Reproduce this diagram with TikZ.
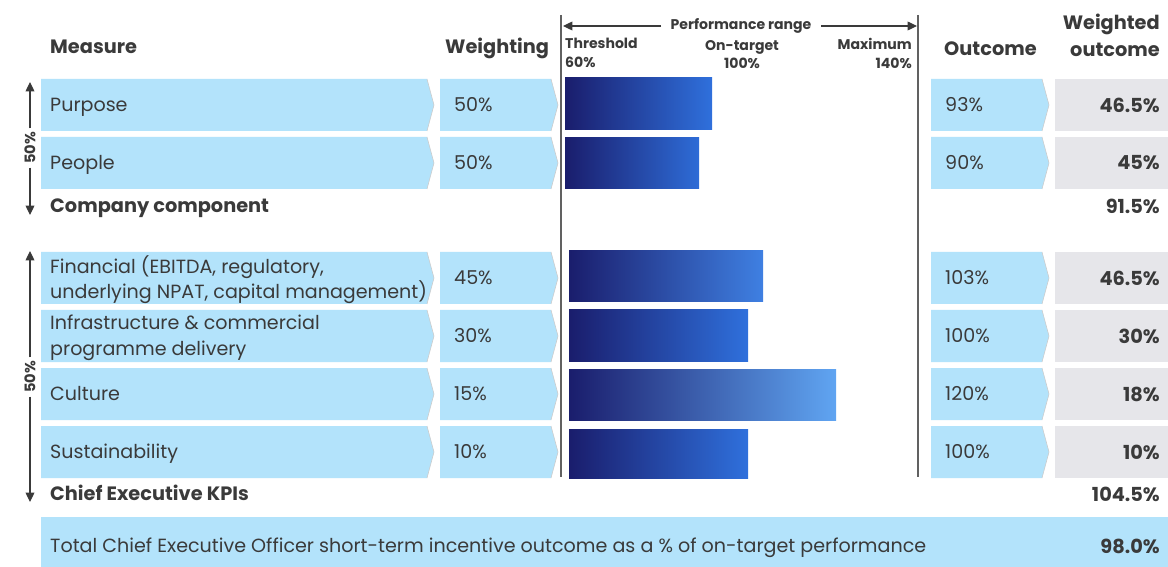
\documentclass[tikz,border=0pt]{standalone}
\usepackage{fontspec}
\setmainfont{Poppins}
\usetikzlibrary{arrows.meta}
\definecolor{lblue}{HTML}{B3E3FB}
\definecolor{lgrey}{HTML}{E6E6EA}
\definecolor{ink}{HTML}{3A3A3A}
\definecolor{navy}{HTML}{1A1D6C}
\definecolor{barend}{HTML}{2F70DC}
\definecolor{barfin}{HTML}{3F80E2}
\definecolor{barsky}{HTML}{60A5F2}
\tikzset{
  txt/.style={anchor=base west, text=ink, inner sep=0pt, yshift=-5.6pt, font=\fontsize{16.3}{22}\selectfont},
  twoline/.style={anchor=west, text=ink, inner sep=0pt, align=left, yshift=-1.5pt, font=\fontsize{16.3}{22}\selectfont},
  btxt/.style={anchor=base west, text=ink, inner sep=0pt, yshift=-5.8pt, font=\fontsize{16.5}{22}\selectfont\bfseries},
  val/.style={anchor=east, text=ink, inner sep=0pt, font=\fontsize{16.5}{23}\selectfont\bfseries},
  hdr/.style={text=ink, inner sep=0pt, font=\fontsize{12}{16}\selectfont\bfseries},
  pct/.style={text=ink, inner sep=3pt, rotate=90, font=\fontsize{12.5}{14}\selectfont\bfseries},
  sidearr/.style={draw=ink, line width=0.9pt, -{Triangle[length=8pt,width=7.5pt]}},
  rule/.style={draw=ink!80, line width=0.9pt}
}
% chevron box: colour, left x, right x, top y, bottom y
\newcommand{\chev}[5]{\fill[#1] (#2,#4) -- ({#3-7},#4) -- (#3,{(#4+#5)/2}) -- ({#3-7},#5) -- (#2,#5) -- cycle;
  \draw[gray!40, line width=0.5pt] ({#3-7},#4) -- (#3,{(#4+#5)/2}) -- ({#3-7},#5);}
% performance bar: top y, bottom y, left x, right x, middle colour, end colour
\newcommand{\perfbar}[6]{\shade[left color=navy, middle color=#5, right color=#6] (#3,#1) rectangle (#4,#2);}
\begin{document}
\begin{tikzpicture}[x=0.03cm, y=-0.03cm]
\useasboundingbox (0,0) rectangle (1168,567);
% headers
\node[btxt] (hmeasure) at (50,47) {Measure};
\node[btxt] (hweight) at (445,47) {Weighting};
\node[btxt] (houtcome) at (944,49) {Outcome};
\node[val, align=right] (hweighted) at (1160,35) {Weighted\\outcome};
\node[hdr, fill=white, inner xsep=8pt] (prange) at (741,26) {Performance range};
\coordinate (pl) at (563,26); \coordinate (pr) at (917,26);
\draw[sidearr] (prange) -- (pl); \draw[sidearr] (prange) -- (pr);
\node[hdr, anchor=north west, align=left] (thr) at (565,38) {Threshold\\60\%};
\node[hdr, anchor=north, align=center] (ont) at (742,40) {On-target\\100\%};
\node[hdr, anchor=north east, align=right] (mx) at (912,38) {Maximum\\140\%};
\draw[rule] (561,15) -- (561,477); \draw[rule] (918,15) -- (918,477);
% company rows
\chev{lblue}{41}{434}{79}{131} \chev{lblue}{440}{558}{79}{131} \chev{lblue}{931}{1049}{79}{131} \fill[lgrey] (1055,79) rectangle (1168,131);
\chev{lblue}{41}{434}{137}{189} \chev{lblue}{440}{558}{137}{189} \chev{lblue}{931}{1049}{137}{189} \fill[lgrey] (1055,137) rectangle (1168,189);
\perfbar{78}{130}{565}{712}{navy!50!barend}{barend} \perfbar{138}{189}{565}{699}{navy!52!barend}{barend!95!navy}
\node[txt] (purpose) at (50,105) {Purpose}; \node[txt] (purposew) at (454,105) {50\%};
\node[txt] (purposeo) at (945,105) {93\%}; \node[val] (purposewo) at (1160,105) {46.5\%};
\node[txt] (people) at (50,163) {People}; \node[txt] (peoplew) at (454,163) {50\%};
\node[txt] (peopleo) at (945,163) {90\%}; \node[val] (peoplewo) at (1160,163) {45\%};
\node[btxt] (company) at (50,206) {Company component}; \node[val] (companyv) at (1160,206) {91.5\%};
% ceo kpi rows
\chev{lblue}{41}{434}{252}{304} \chev{lblue}{440}{558}{252}{304} \chev{lblue}{931}{1049}{252}{304} \fill[lgrey] (1055,252) rectangle (1168,304);
\chev{lblue}{41}{434}{310}{362} \chev{lblue}{440}{558}{310}{362} \chev{lblue}{931}{1049}{310}{362} \fill[lgrey] (1055,310) rectangle (1168,362);
\chev{lblue}{41}{434}{368}{420} \chev{lblue}{440}{558}{368}{420} \chev{lblue}{931}{1049}{368}{420} \fill[lgrey] (1055,368) rectangle (1168,420);
\chev{lblue}{41}{434}{426}{478} \chev{lblue}{440}{558}{426}{478} \chev{lblue}{931}{1049}{426}{478} \fill[lgrey] (1055,426) rectangle (1168,478);
\perfbar{251}{302}{569}{763}{navy!40!barend}{barfin}
\perfbar{310}{361}{569}{748}{navy!48!barend}{barend}
\perfbar{369}{420}{569}{836}{barend!90!navy}{barsky}
\perfbar{429}{478}{569}{748}{navy!48!barend}{barend}
\node[twoline] (financial) at (50,278) {Financial (EBITDA, regulatory,\\underlying NPAT, capital management)};
\node[txt] (financialw) at (454,278) {45\%}; \node[txt] (financialo) at (945,278) {103\%}; \node[val] (financialwo) at (1160,278) {46.5\%};
\node[twoline] (infra) at (50,336) {Infrastructure \& commercial\\programme delivery};
\node[txt] (infraw) at (454,336) {30\%}; \node[txt] (infrao) at (945,336) {100\%}; \node[val] (infrawo) at (1160,336) {30\%};
\node[txt] (culture) at (50,394) {Culture};
\node[txt] (culturew) at (454,394) {15\%}; \node[txt] (cultureo) at (945,394) {120\%}; \node[val] (culturewo) at (1160,394) {18\%};
\node[txt] (sustain) at (50,452) {Sustainability};
\node[txt] (sustainw) at (454,452) {10\%}; \node[txt] (sustaino) at (945,452) {100\%}; \node[val] (sustainwo) at (1160,452) {10\%};
\node[btxt] (ceo) at (50,494) {Chief Executive KPIs}; \node[val] (ceov) at (1160,494) {104.5\%};
% side arrows
\node[pct] (cpct) at (30,148) {50\%};
\coordinate (ctop) at (30,82); \coordinate (cbot) at (30,215);
\draw[sidearr] (cpct) -- (ctop); \draw[sidearr] (cpct) -- (cbot);
\node[pct] (kpct) at (30,377) {50\%};
\coordinate (ktop) at (30,251); \coordinate (kbot) at (30,502);
\draw[sidearr] (kpct) -- (ktop); \draw[sidearr] (kpct) -- (kbot);
% total
\fill[lblue] (41,517) rectangle (1168,567);
\node[txt] (total) at (50,546) {Total Chief Executive Officer short-term incentive outcome as a \% of on-target performance};
\node[val] (totalv) at (1160,546) {98.0\%};
\end{tikzpicture}
\end{document}
